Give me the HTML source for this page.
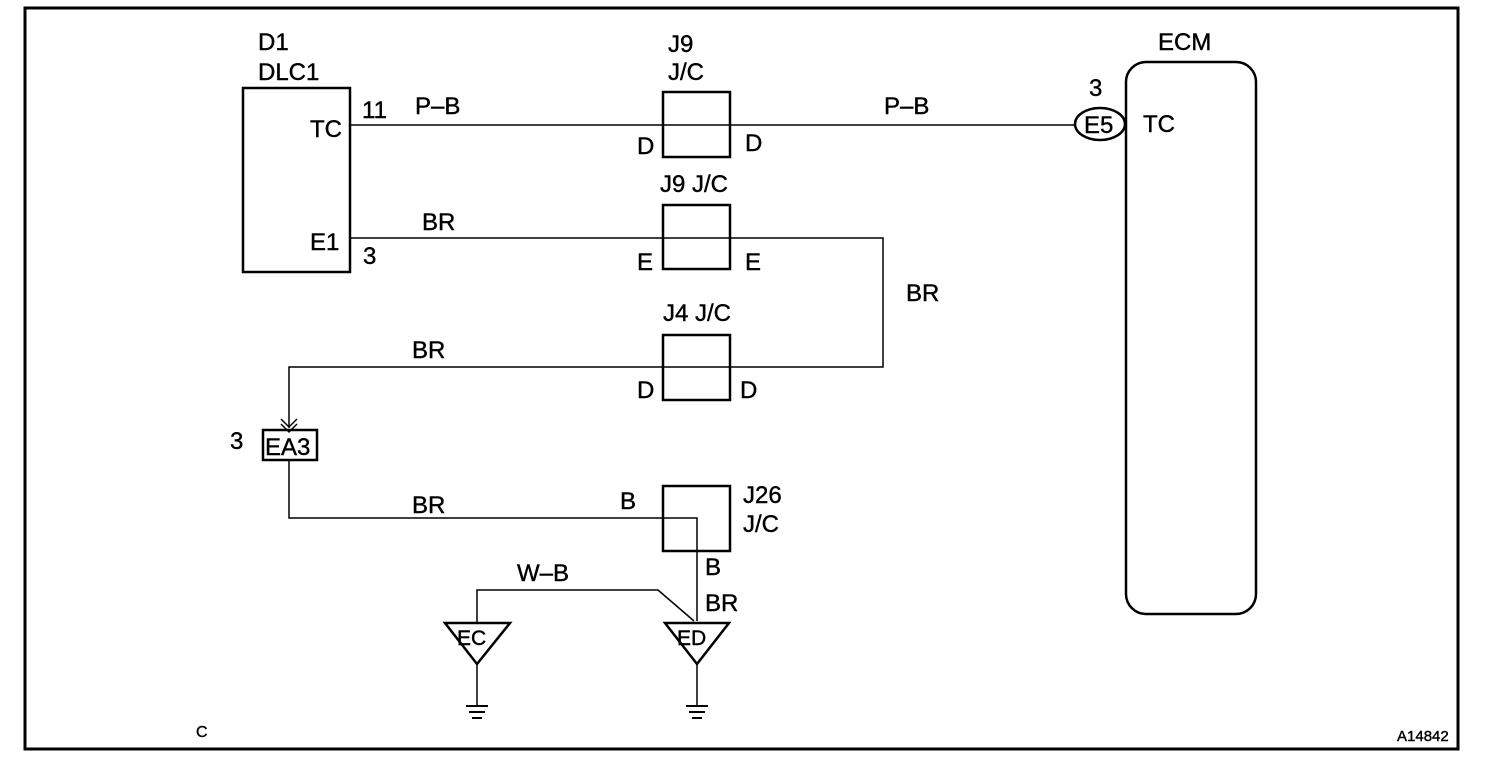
<!DOCTYPE html>
<html><head><meta charset="utf-8"><style>
html,body{margin:0;padding:0;background:#fff;}
svg{display:block;}
text{font-family:"Liberation Sans",Arial,sans-serif;font-size:24px;fill:#000;stroke:#000;stroke-width:0.4;}
</style></head><body>
<svg width="1504" height="768" viewBox="0 0 1504 768" xmlns="http://www.w3.org/2000/svg">
<rect x="25" y="8" width="1433" height="741" fill="none" stroke="#000" stroke-width="3"/>
<g fill="none" stroke="#000">
<rect x="243" y="88" width="107" height="184" stroke-width="2.5"/>
<rect x="663" y="92" width="67" height="65" stroke-width="2.5"/>
<rect x="663" y="205" width="67" height="64" stroke-width="2.5"/>
<rect x="663" y="335" width="67" height="65" stroke-width="2.5"/>
<rect x="663" y="486" width="67" height="65" stroke-width="2.5"/>
<rect x="1126" y="62" width="130" height="552" rx="20" stroke-width="2.5"/>
<ellipse cx="1100" cy="124" rx="25" ry="16" stroke-width="2.5"/>
<g stroke-width="1.5">
<line x1="350" y1="125" x2="1075" y2="125"/>
<polyline points="350,238 883,238 883,367 289,367 289,428"/>
<polyline points="289,460 289,518 697,518 697,621"/>
<polyline points="477,622 477,590 658,590 694,621"/>
<line x1="477" y1="662" x2="477" y2="705"/>
<line x1="697" y1="662" x2="697" y2="705"/>
</g>
<polyline points="281,419 289,427 297,419" stroke-width="1.5"/>
<polyline points="281,424 289,432 297,424" stroke-width="1.5"/>
<rect x="263" y="430" width="54" height="30" stroke-width="2.5"/>
<polygon points="445,623 510,623 477,664" stroke-width="2.5"/>
<polygon points="665,623 729,623 697,664" stroke-width="2.5"/>
<g stroke-width="2">
<line x1="466" y1="706" x2="488" y2="706"/><line x1="469" y1="712" x2="485" y2="712"/><line x1="472" y1="718" x2="482" y2="718"/>
<line x1="686" y1="706" x2="708" y2="706"/><line x1="689" y1="712" x2="705" y2="712"/><line x1="692" y1="718" x2="702" y2="718"/>
</g>
</g>
<text x="258" y="50">D1</text>
<text x="258" y="80">DLC1</text>
<text x="310" y="137">TC</text>
<text x="310" y="250">E1</text>
<text x="362" y="118">11</text>
<text x="363" y="264">3</text>
<text x="415" y="114">P–B</text>
<text x="422" y="230">BR</text>
<text x="668" y="52">J9</text>
<text x="668" y="80">J/C</text>
<text x="637" y="154">D</text>
<text x="745" y="151">D</text>
<text x="660" y="192">J9 J/C</text>
<text x="637" y="270">E</text>
<text x="745" y="270">E</text>
<text x="906" y="301">BR</text>
<text x="663" y="321">J4 J/C</text>
<text x="412" y="358">BR</text>
<text x="637" y="398">D</text>
<text x="740" y="398">D</text>
<text x="884" y="114">P–B</text>
<text x="1089" y="96">3</text>
<text x="1084" y="133">E5</text>
<text x="1143" y="132">TC</text>
<text x="1158" y="50">ECM</text>
<text x="230" y="449">3</text>
<text x="265" y="455">EA3</text>
<text x="412" y="513">BR</text>
<text x="620" y="509">B</text>
<text x="743" y="503">J26</text>
<text x="743" y="532">J/C</text>
<text x="705" y="575">B</text>
<text x="517" y="581">W–B</text>
<text x="705" y="611">BR</text>
<text x="457" y="645" style="font-size:21px">EC</text>
<text x="677" y="645" style="font-size:21px">ED</text>
<text x="196" y="737" style="font-size:16px">C</text>
<text x="1397" y="741" style="font-size:15px">A14842</text>
</svg>
</body></html>
